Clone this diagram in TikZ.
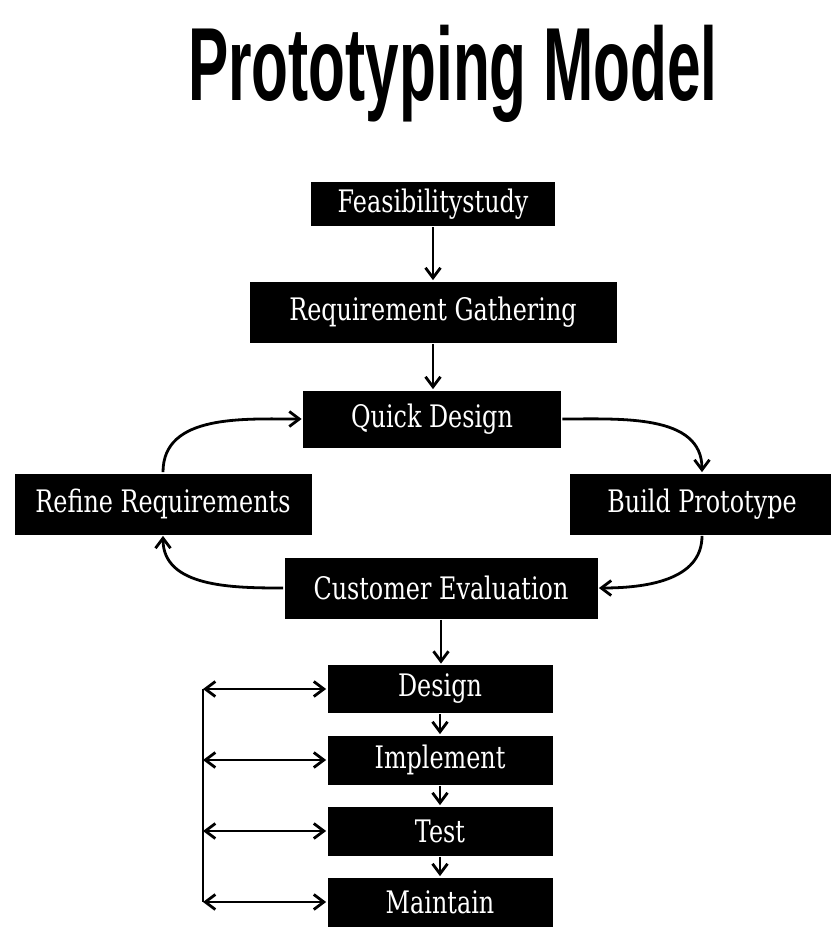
\documentclass[tikz,border=0pt]{standalone}
\usepackage{fontspec}
\usepackage{tikz}
\usetikzlibrary{arrows.meta}
\newfontfamily\titlefont[FakeStretch=0.58]{Liberation Sans}
\newfontfamily\boxfont[FakeStretch=0.77]{DejaVu Serif}

\begin{document}
\begin{tikzpicture}[x=1pt, y=-1pt, line width=2.8pt,
  phase/.style={fill=black, text=white, inner sep=0pt, font=\boxfont\fontsize{31}{31}\selectfont},
  flow/.style={-{Straight Barb[length=10pt, width=15pt]}},
  both/.style={{Straight Barb[length=10pt, width=15pt]}-{Straight Barb[length=10pt, width=15pt]}}]
  \useasboundingbox (0, 0) rectangle (830, 929);

  \node [anchor=base] (title) at (453, 100) {\titlefont\bfseries\fontsize{104}{104}\selectfont Prototyping Model};

  \node [phase, minimum width=244pt, minimum height=44pt] (feas) at (433, 204) {Feasibilitystudy};
  \node [phase, minimum width=367pt, minimum height=61pt] (req) at (433, 312) {Requirement Gathering};
  \node [phase, minimum width=258pt, minimum height=57pt] (quick) at (432, 419) {Quick Design};
  \node [phase, minimum width=297pt, minimum height=61pt] (refine) at (163, 504) {Refine Requirements};
  \node [phase, minimum width=264pt, minimum height=61pt] (build) at (702, 504) {Build Prototype};
  \node [phase, minimum width=313pt, minimum height=61pt] (cust) at (441, 588) {Customer Evaluation};

  \node [phase, minimum width=225pt, minimum height=48pt] (design) at (440, 689) {Design};
  \node [phase, minimum width=225pt, minimum height=49pt] (impl) at (440, 760) {Implement};
  \node [phase, minimum width=225pt, minimum height=49pt] (test) at (440, 831) {Test};
  \node [phase, minimum width=225pt, minimum height=49pt] (maint) at (440, 902) {Maintain};

  \draw [flow] (feas.south) -- (feas.south |- req.north);
  \draw [flow] (req.south) -- (req.south |- quick.north);

  % prototype loop
  \draw [flow] (quick.east) to[out=0, in=90] (build.north);
  \draw [flow] (build.south) to[out=-90, in=0] (cust.east);
  \draw [flow] (cust.west) to[out=180, in=-90] (refine.south);
  \draw [flow] (refine.north) to[out=90, in=180] (quick.west);

  \draw [flow] (cust.south) -- (cust.south |- design.north);
  \foreach \a/\b in {design/impl, impl/test, test/maint}
    \draw [flow] (\a.south) -- (\a.south |- \b.north);

  % feedback bus
  \coordinate (bus) at (203, 0);
  \draw (design.west -| bus) -- (maint.west -| bus);
  \foreach \n in {design, impl, test, maint}
    \draw [both] (\n.west -| bus) -- (\n.west);
\end{tikzpicture}
\end{document}
